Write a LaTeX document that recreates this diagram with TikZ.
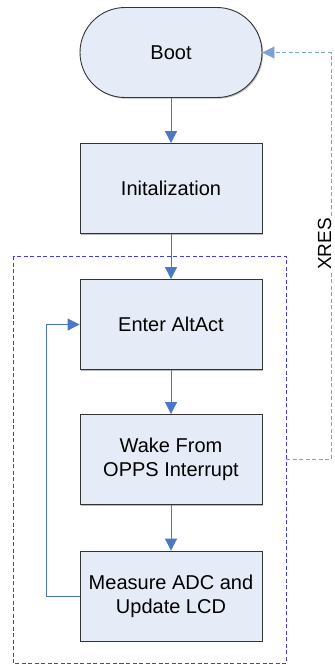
\documentclass[tikz,border=0pt]{standalone}
\usepackage{fontspec}
\setmainfont{Liberation Sans}
\usetikzlibrary{arrows.meta,shadows}

\definecolor{boxfill}{HTML}{E6ECF7}
\definecolor{flowblue}{HTML}{4A78C8}
\definecolor{loopblue}{HTML}{3C3CF2}
\definecolor{resetblue}{HTML}{7F9ED8}

\tikzset{
  stepbox/.style={draw=black!80, line width=0.9pt, fill=boxfill,
    minimum width=182pt, minimum height=90pt, align=center,
    font=\fontsize{20}{24}\selectfont,
    drop shadow={shadow xshift=1.2pt, shadow yshift=-1.2pt, opacity=0.45, fill=black!60}},
  bootbox/.style={stepbox, rounded corners=45pt},
  flow/.style={draw=flowblue, line width=1pt, -{Triangle[length=12pt,width=12pt]}},
}

\begin{document}
\begin{tikzpicture}[x=1pt,y=-1pt]
  \useasboundingbox (0,0) rectangle (335,665);

  % loop region
  \draw[loopblue, line width=0.9pt, dash pattern=on 4pt off 2.5pt]
    (13,256) rectangle (286,663);

  \node[bootbox] (boot) at (171,52.5) {Boot};
  \node[stepbox] (init) at (171,188.5) {Initalization};
  \node[stepbox] (alt) at (171,324.5) {Enter AltAct};
  \node[stepbox] (wake) at (171,459.5) {Wake From\\OPPS Interrupt};
  \node[stepbox] (adc) at (171,596) {Measure ADC and\\Update LCD};

  \draw[flow] (boot) -- (init);
  \draw[flow] (init) -- (alt);
  \draw[flow] (alt) -- (wake);
  \draw[flow] (wake) -- (adc);
  \draw[flow] (adc.west) -- (46,596) -- (46,324.5) -- (alt.west);

  % reset path back to boot
  \coordinate (resetout) at (286,459);
  \node[rotate=90, font=\fontsize{19}{23}\selectfont, inner sep=2pt] (xres) at (324.5,244) {XRES};
  \draw[resetblue, line width=0.9pt, dash pattern=on 4pt off 2.5pt]
    (resetout) -- (331,459) -- (xres.west -| 331,0);
  \draw[resetblue, line width=0.9pt, dash pattern=on 4pt off 2.5pt,
    -{Triangle[length=12pt,width=12pt]}]
    (xres.east -| 331,0) -- (331,52.5) -- (boot.east);
\end{tikzpicture}
\end{document}
